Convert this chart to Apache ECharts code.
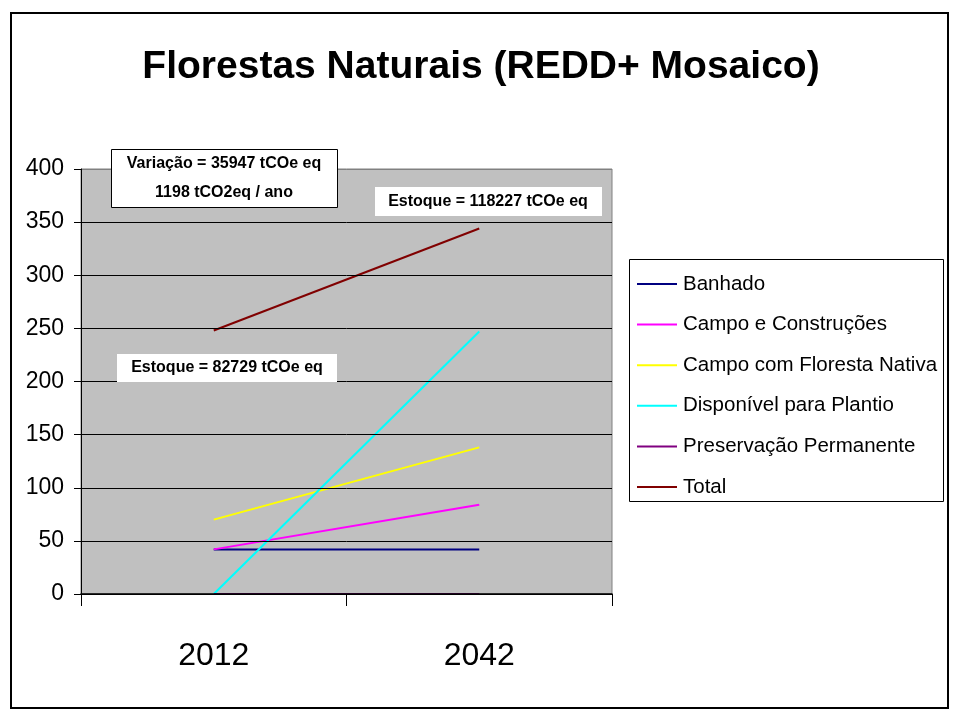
<!DOCTYPE html>
<html>
<head>
<meta charset="utf-8">
<script src="https://cdn.jsdelivr.net/npm/echarts@6/dist/echarts.min.js"></script>
<style>
html,body{margin:0;padding:0;background:#fff;}
#chart{width:962px;height:722px;}
</style>
</head>
<body>
<div id="chart"></div>
<script>
const titleText = 'Florestas Naturais (REDD+ Mosaico)';
const categories = ['2012', '2042'];
const seriesNames = ['Banhado', 'Campo e Construções', 'Campo com Floresta Nativa', 'Disponível para Plantio', 'Preservação Permanente', 'Total'];
const banhado = [42, 42];
const campoConstrucoes = [42, 84];
const campoFloresta = [70, 138];
const disponivel = [0, 247];
const preservacao = [0, 0];
const total = [248, 344];
const yTicks = [0, 50, 100, 150, 200, 250, 300, 350, 400];
const noteVariacao = ['Variação = 35947 tCOe eq', '1198 tCO2eq / ano'];
const noteEstoqueFinal = 'Estoque = 118227 tCOe eq';
const noteEstoqueInicial = 'Estoque = 82729 tCOe eq';

const colors = ['#000080', '#FF00FF', '#FFFF00', '#00FFFF', '#800080', '#800000'];
const seriesData = [banhado, campoConstrucoes, campoFloresta, disponivel, preservacao, total];

const chart = echarts.init(document.getElementById('chart'));
const sans = '"Liberation Sans", Arial, sans-serif';

const splitColors = yTicks.map((t, i) => i === yTicks.length - 1 ? '#808080' : '#000000');

const option = {
  animation: false,
  backgroundColor: '#ffffff',
  color: colors,
  grid: {
    left: 81, top: 169, width: 531, height: 425,
    show: true, backgroundColor: '#C0C0C0', borderColor: '#808080', borderWidth: 1
  },
  xAxis: {
    type: 'category',
    data: categories,
    boundaryGap: true,
    z: 5,
    axisLine: { lineStyle: { color: '#000', width: 1.5 } },
    axisTick: { show: true, length: 12, interval: 0, lineStyle: { color: '#000' } },
    axisLabel: { fontFamily: sans, fontSize: 32, color: '#000', margin: 46 },
    splitLine: { show: false }
  },
  yAxis: {
    type: 'value',
    min: 0, max: 400, interval: 50,
    z: 5,
    axisLine: { show: true, lineStyle: { color: '#000' } },
    axisTick: { show: true, length: 7, lineStyle: { color: '#000' } },
    axisLabel: { fontFamily: sans, fontSize: 23, color: '#000', margin: 17 },
    splitLine: { show: true, lineStyle: { color: splitColors, width: 1 } }
  },
  legend: {
    orient: 'vertical',
    left: 637, top: 271,
    padding: 0,
    itemGap: 14.6,
    itemWidth: 40, itemHeight: 2,
    icon: 'rect',
    data: seriesNames,
    textStyle: { fontFamily: sans, fontSize: 20.5, color: '#000', lineHeight: 26, padding: [0, 0, 0, 1] }
  },
  series: seriesNames.map((name, i) => ({
    name: name,
    type: 'line',
    data: seriesData[i],
    showSymbol: false,
    symbol: 'none',
    z: 2,
    lineStyle: { width: 2, color: colors[i] },
    itemStyle: { color: colors[i] }
  })),
  graphic: [
    { type: 'rect', shape: { x: 11, y: 13, width: 937, height: 695 }, style: { fill: 'none', stroke: '#000', lineWidth: 2 }, z: 0, silent: true },
    { type: 'text', x: 481, y: 67, style: { text: titleText, font: 'bold 39px ' + sans, fill: '#000', align: 'center', verticalAlign: 'middle' }, z: 10 },
    { type: 'rect', shape: { x: 629.5, y: 259.5, width: 314, height: 242 }, style: { fill: '#fff', stroke: '#000', lineWidth: 1 }, z: 1, silent: true },
    { type: 'rect', shape: { x: 111.5, y: 149.5, width: 226, height: 58 }, style: { fill: '#fff', stroke: '#000', lineWidth: 1 }, z: 20 },
    { type: 'text', x: 224, y: 164, style: { text: noteVariacao[0], font: 'bold 16px ' + sans, fill: '#000', align: 'center', verticalAlign: 'middle' }, z: 21 },
    { type: 'text', x: 224, y: 193, style: { text: noteVariacao[1], font: 'bold 16px ' + sans, fill: '#000', align: 'center', verticalAlign: 'middle' }, z: 21 },
    { type: 'rect', shape: { x: 375, y: 187, width: 227, height: 29 }, style: { fill: '#fff' }, z: 20 },
    { type: 'text', x: 488, y: 202, style: { text: noteEstoqueFinal, font: 'bold 16px ' + sans, fill: '#000', align: 'center', verticalAlign: 'middle' }, z: 21 },
    { type: 'rect', shape: { x: 117, y: 354, width: 220, height: 28 }, style: { fill: '#fff' }, z: 20 },
    { type: 'text', x: 227, y: 368, style: { text: noteEstoqueInicial, font: 'bold 16px ' + sans, fill: '#000', align: 'center', verticalAlign: 'middle' }, z: 21 }
  ]
};
chart.setOption(option);
</script>
</body>
</html>
